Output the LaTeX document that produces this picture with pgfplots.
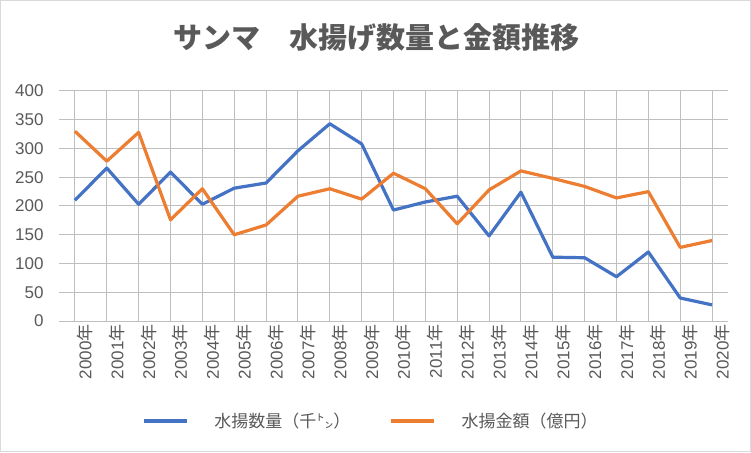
\documentclass[border=0pt]{standalone}
\usepackage{pgfplots}
\pgfplotsset{compat=1.18}
\usepackage{fontspec}
\setmainfont{Liberation Sans}
\newfontfamily\jp{Noto Sans CJK JP}
\definecolor{txt}{HTML}{595959}
\definecolor{grid}{HTML}{D9D9D9}
\definecolor{blueS}{HTML}{4472C4}
\definecolor{orangeS}{HTML}{ED7D31}
\pgfplotstableread{
x qty val
0 210 330
1 266 278
2 203 328
3 259 176
4 203 230
5 231 150
6 240 167
7 296 217
8 343 230
9 308 212
10 193 257
11 207 230
12 217 169
13 148 228
14 224 261
15 111 248
16 110 234
17 77 214
18 120 225
19 40 128
20 28 140
}\data
\begin{document}
\begin{tikzpicture}[x=1pt,y=1pt]
\fill[white] (0,0) rectangle (751,452);
\draw[grid, line width=1pt] (0.5,0.5) rectangle (750.5,451.5);
\node[font=\jp\bfseries\fontsize{29}{32}\selectfont, text=txt] at (376,414) {サンマ　水揚げ数量と金額推移};
\begin{axis}[
  at={(59pt,131pt)}, anchor=south west,
  scale only axis, width=669pt, height=230pt,
  xmin=-0.5, xmax=20.5, ymin=0, ymax=400,
  ytick={0,50,...,400},
  xtick={0,...,20},
  xticklabels={2000\jp 年,2001\jp 年,2002\jp 年,2003\jp 年,2004\jp 年,2005\jp 年,2006\jp 年,2007\jp 年,2008\jp 年,2009\jp 年,2010\jp 年,2011\jp 年,2012\jp 年,2013\jp 年,2014\jp 年,2015\jp 年,2016\jp 年,2017\jp 年,2018\jp 年,2019\jp 年,2020\jp 年},
  xticklabel style={rotate=90, anchor=east, font=\fontsize{17}{19}\selectfont, text=txt, yshift=-10pt},
  yticklabel style={font=\fontsize{17}{19}\selectfont, text=txt, xshift=-12pt},
  /pgf/number format/assume math mode=true,
  axis line style={draw=none},
  major tick length=0pt,
  ymajorgrids, major grid style={grid, line width=1pt},
  legend columns=2,
  legend style={at={(0.124,-0.435)}, anchor=west, draw=none, fill=none, inner sep=0pt,
    font=\jp\fontsize{17}{19}\selectfont, text=txt,
    /tikz/every even column/.append style={column sep=37pt}},
  legend image code/.code={\draw[#1] (0pt,0pt) -- (43pt,0pt);},
  legend cell align=left,
]
\addplot[blueS, line width=3.2pt, line join=round] table[x=x,y=qty]{\data};
\addlegendentry{\hspace{24pt}水揚数量（千㌧）}
\addplot[orangeS, line width=3.2pt, line join=round] table[x=x,y=val]{\data};
\addlegendentry{\hspace{24pt}水揚金額（億円）}
\end{axis}
\end{tikzpicture}
\end{document}
